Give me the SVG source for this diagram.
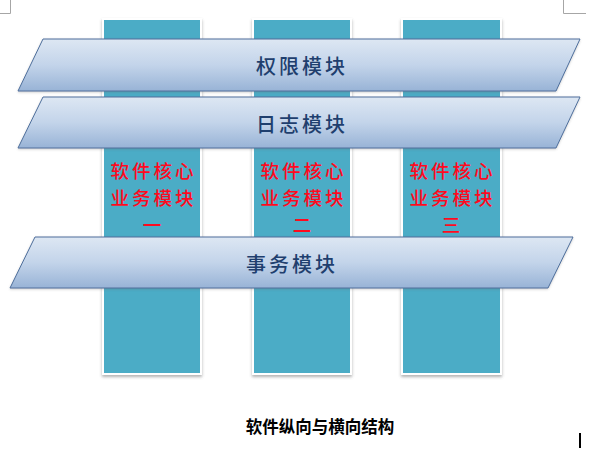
<svg xmlns="http://www.w3.org/2000/svg" width="605" height="457" viewBox="0 0 605 457">
  <defs>
    <linearGradient id="bandGrad" x1="0" y1="0" x2="0" y2="1">
      <stop offset="0" stop-color="#DDE7F3"/>
      <stop offset="0.5" stop-color="#C3D4EA"/>
      <stop offset="1" stop-color="#98B3D6"/>
    </linearGradient>
    <filter id="colShadow" x="-10%" y="-5%" width="120%" height="110%">
      <feDropShadow dx="0" dy="2" stdDeviation="1.5" flood-color="#555" flood-opacity="0.45"/>
    </filter>
    <filter id="bandShadow" x="-5%" y="-10%" width="110%" height="130%">
      <feDropShadow dx="0" dy="1" stdDeviation="1" flood-color="#666" flood-opacity="0.3"/>
    </filter>
  </defs>
  <style>
    .col { fill: #4BACC6; stroke: #FFFFFF; stroke-width: 2; filter: url(#colShadow); }
    .band { fill: url(#bandGrad); stroke: #4E6F9C; stroke-width: 1; filter: url(#bandShadow); }
    .bandText { font-family: "Noto Sans CJK SC", "Noto Sans CJK TC", sans-serif; font-size: 20px; font-weight: 500; fill: #1F3F6E; text-anchor: middle; letter-spacing: 3px; }
    .coreText { font-family: "Noto Sans CJK SC", "Noto Sans CJK TC", sans-serif; font-size: 18.5px; font-weight: 500; fill: #FF0A1E; text-anchor: middle; letter-spacing: 3px; }
    .caption { font-family: "Noto Sans CJK SC", "Noto Sans CJK TC", sans-serif; font-size: 16.5px; font-weight: bold; fill: #000000; text-anchor: middle; }
    .mark { stroke: #A6A6A6; stroke-width: 1; fill: none; }
  </style>
  <rect x="0" y="0" width="605" height="457" fill="#FFFFFF"/>
  <g id="page-marks">
    <path class="mark" d="M10.5 0 V13.5 H0"/>
    <path class="mark" d="M563.5 0 V13.5 H586"/>
    <line x1="580" y1="433" x2="580" y2="448" stroke="#000" stroke-width="2"/>
  </g>
  <g id="core1">
    <rect class="col" x="103" y="19" width="98" height="355"/>
    <text class="coreText" x="153.5" y="178">软件核心</text>
    <text class="coreText" x="153.5" y="205">业务模块</text>
    <text class="coreText" x="153.5" y="232">一</text>
  </g>
  <g id="core2">
    <rect class="col" x="253" y="19" width="98" height="355"/>
    <text class="coreText" x="303.5" y="178">软件核心</text>
    <text class="coreText" x="303.5" y="205">业务模块</text>
    <text class="coreText" x="303.5" y="232">二</text>
  </g>
  <g id="core3">
    <rect class="col" x="402" y="19" width="99" height="355"/>
    <text class="coreText" x="452.5" y="178">软件核心</text>
    <text class="coreText" x="452.5" y="205">业务模块</text>
    <text class="coreText" x="452.5" y="232">三</text>
  </g>
  <g id="permission">
    <polygon class="band" points="43,39 580,39 556,91 18,91"/>
    <text class="bandText" x="302" y="74">权限模块</text>
  </g>
  <g id="log">
    <polygon class="band" points="43,97 580,97 556,148 18,148"/>
    <text class="bandText" x="302" y="132">日志模块</text>
  </g>
  <g id="transaction">
    <polygon class="band" points="35,237 573,237 548,288 10,288"/>
    <text class="bandText" x="292" y="272">事务模块</text>
  </g>
  <g id="connectors"/>
  <g id="caption">
    <text class="caption" x="320" y="433">软件纵向与横向结构</text>
  </g>
</svg>
